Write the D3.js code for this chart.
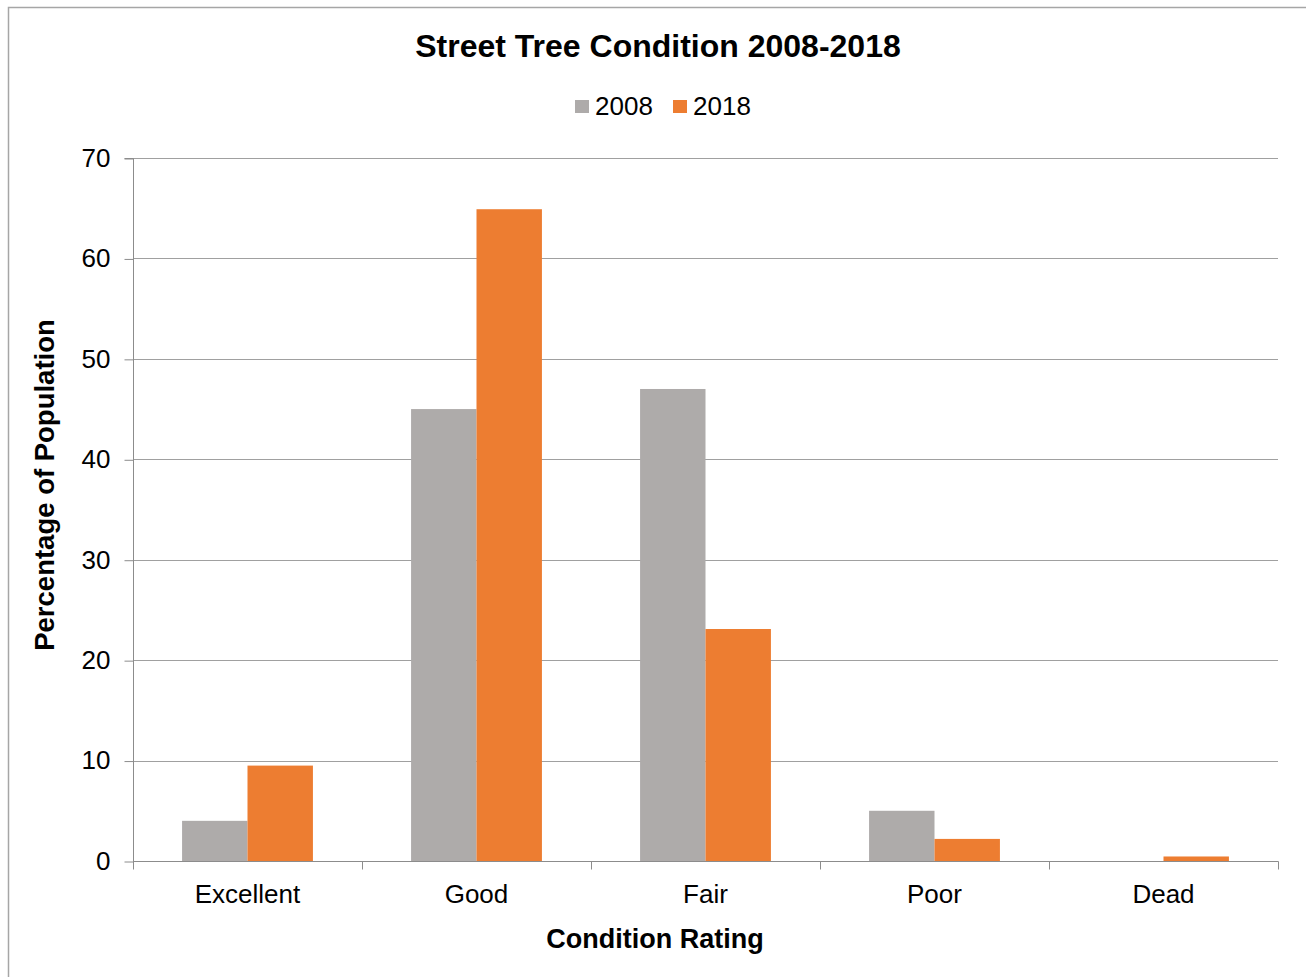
<!DOCTYPE html>
<html>
<head>
<meta charset="utf-8">
<script src="https://cdn.jsdelivr.net/npm/d3@7"></script>
<style>
  html, body { margin: 0; padding: 0; background: #fff; }
  svg { display: block; font-family: "Liberation Sans", Arial, sans-serif; }
</style>
</head>
<body>
<svg id="chart" width="1306" height="977"></svg>
<script>
const categories = ["Excellent", "Good", "Fair", "Poor", "Dead"];
const seriesNames = ["2008", "2018"];
const values2008 = [4, 45, 47, 5, 0];
const values2018 = [9.5, 64.9, 23.1, 2.2, 0.45];
const yTicks = [0, 10, 20, 30, 40, 50, 60, 70];
const colors = ["#AEABAA", "#ED7D31"];

const svg = d3.select("#chart");
const W = 1306, H = 977;
const m = { left: 133, right: 1278, top: 158, bottom: 861 };

// outer frame
svg.append("rect").attr("x", 8.5).attr("y", 7.5).attr("width", W + 10).attr("height", H + 10)
  .attr("fill", "#fff").attr("stroke", "#A6A6A6").attr("stroke-width", 1.5);

const x0 = d3.scaleBand().domain(categories).range([m.left, m.right]).paddingInner(0).paddingOuter(0);
const bw = x0.bandwidth();
const x1 = d3.scaleBand().domain(seriesNames).range([bw * 0.2143, bw * 0.7857]);
const y = d3.scaleLinear().domain([0, 70]).range([m.bottom, m.top]);

// gridlines
svg.append("g").selectAll("line").data(yTicks.filter(d => d > 0)).join("line")
  .attr("x1", m.left).attr("x2", m.right)
  .attr("y1", d => Math.round(y(d)) + 0.5).attr("y2", d => Math.round(y(d)) + 0.5)
  .attr("stroke", "#A0A0A0").attr("stroke-width", 1);

// bars
const data = categories.map((c, i) => ({ c, vals: [values2008[i], values2018[i]] }));
const groups = svg.append("g").selectAll("g").data(data).join("g")
  .attr("transform", d => `translate(${x0(d.c)},0)`);
groups.selectAll("rect").data(d => d.vals.map((v, j) => ({ v, s: seriesNames[j], j })))
  .join("rect")
  .attr("x", d => x1(d.s)).attr("width", x1.bandwidth())
  .attr("y", d => y(d.v)).attr("height", d => y(0) - y(d.v))
  .attr("fill", d => colors[d.j]);

// y axis
const yAxis = d3.axisLeft(y).tickValues(yTicks).tickSize(9).tickPadding(14).tickFormat(d3.format("d"));
const gy = svg.append("g").attr("transform", `translate(${m.left + 0.5},0)`).call(yAxis);
gy.select(".domain").attr("stroke", "#8C8C8C").attr("d", `M-9,${m.top + 0.5}H0V${m.bottom + 0.5}`);
gy.selectAll(".tick line").attr("stroke", "#8C8C8C").attr("transform", "translate(0,0.5)");
gy.selectAll(".tick text").attr("font-size", 26).attr("fill", "#000")
  .attr("font-family", "Liberation Sans, Arial, sans-serif");

// x axis
const gx = svg.append("g").attr("transform", `translate(0,${m.bottom + 0.5})`);
gx.append("line").attr("x1", m.left).attr("x2", m.right + 0.5).attr("y1", 0).attr("y2", 0)
  .attr("stroke", "#8C8C8C");
const boundaries = categories.map(c => x0(c)).concat([x0(categories[categories.length - 1]) + bw]);
gx.selectAll(".bt").data(boundaries).join("line").attr("class", "bt")
  .attr("x1", d => Math.round(d) + 0.5).attr("x2", d => Math.round(d) + 0.5)
  .attr("y1", 0).attr("y2", 8).attr("stroke", "#8C8C8C");
gx.selectAll("text").data(categories).join("text")
  .attr("x", d => x0(d) + bw / 2).attr("y", 41)
  .attr("text-anchor", "middle").attr("font-size", 26).attr("fill", "#000").text(d => d);

// title
svg.append("text").attr("x", 658).attr("y", 57).attr("text-anchor", "middle")
  .attr("font-size", 32).attr("font-weight", "bold").text("Street Tree Condition 2008-2018");

// legend
const legX = [575, 673];
const leg = svg.append("g");
seriesNames.forEach((s, i) => {
  leg.append("rect").attr("x", legX[i]).attr("y", 100).attr("width", 14).attr("height", 13).attr("fill", colors[i]);
  leg.append("text").attr("x", legX[i] + 20).attr("y", 115).attr("font-size", 26).text(s);
});

// axis titles
svg.append("text").attr("x", 655).attr("y", 948).attr("text-anchor", "middle")
  .attr("font-size", 27).attr("font-weight", "bold").text("Condition Rating");
svg.append("text").attr("transform", "translate(54,485) rotate(-90)").attr("text-anchor", "middle")
  .attr("font-size", 27.5).attr("font-weight", "bold").text("Percentage of Population");
</script>
</body>
</html>
